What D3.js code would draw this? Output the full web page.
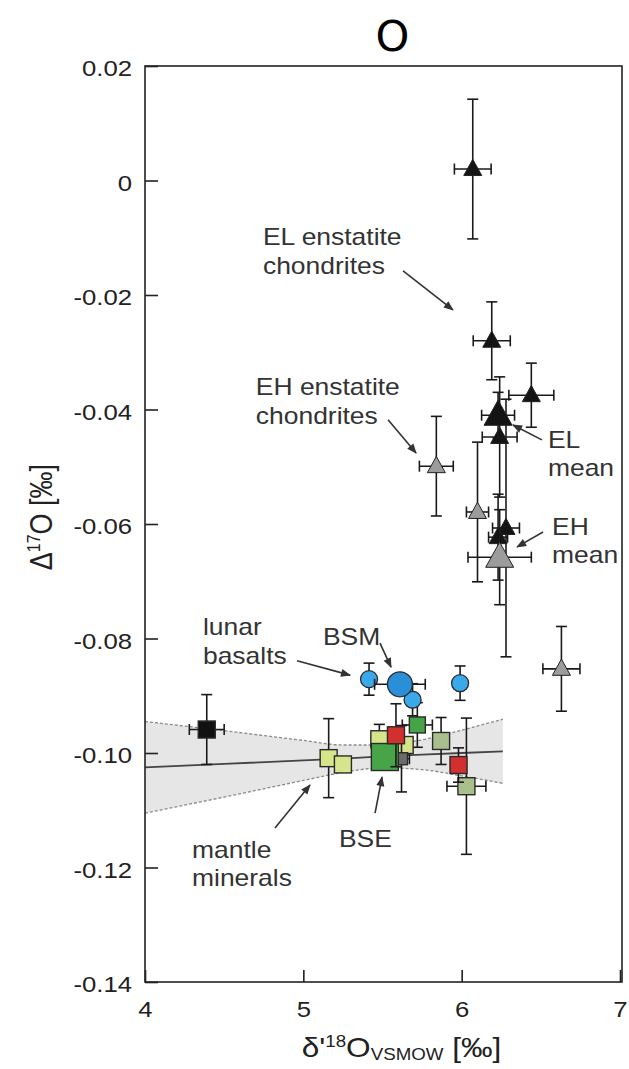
<!DOCTYPE html>
<html>
<head>
<meta charset="utf-8">
<script src="https://cdn.jsdelivr.net/npm/d3@7"></script>
<style>
  html, body { margin: 0; padding: 0; background: #fff; }
  svg { display: block; }
</style>
</head>
<body>
<div id="chart"></div>
<script>
// Δ17O vs δ'18O — enstatite chondrites, lunar basalts, mantle minerals
const X_TICKS = [4, 5, 6, 7];
const Y_TICKS = [0.02, 0, -0.02, -0.04, -0.06, -0.08, -0.10, -0.12, -0.14];

// regression line + confidence band (read at a few x positions)
const BAND_X = [4, 4.5, 5, 5.25, 5.5, 5.75, 6, 6.26];
const BAND_MID = [-0.1025, -0.1019, -0.1013, -0.1010, -0.1006, -0.1003, -0.1000, -0.0997];
const BAND_HI = [-0.0945, -0.0961, -0.0978, -0.0986, -0.0986, -0.0977, -0.0960, -0.0941];
const BAND_LO = [-0.1105, -0.1077, -0.1048, -0.1034, -0.1026, -0.1029, -0.1040, -0.1053];

// each point: x, y, ex (±δ'18O), ey (±Δ17O)
const EL = [
  { x: 6.07, y: 0.002, ex: 0.116, ey: 0.0122 },
  { x: 6.19, y: -0.028, ex: 0.117, ey: 0.0068 },
  { x: 6.44, y: -0.0375, ex: 0.142, ey: 0.0056 },
  { x: 6.24, y: -0.0448, ex: 0.11, ey: 0.0105 },
  { x: 6.28, y: -0.0607, ex: 0.085, ey: 0.0225 },
  { x: 6.23, y: -0.0623, ex: 0.06, ey: 0.0075 },
];
const EL_MEAN = [{ x: 6.23, y: -0.041, ex: 0.104, ey: 0.004 }];
const EH = [
  { x: 5.84, y: -0.0499, ex: 0.107, ey: 0.0087 },
  { x: 6.10, y: -0.0579, ex: 0.07, ey: 0.0122 },
  { x: 6.63, y: -0.0853, ex: 0.117, ey: 0.0074 },
];
const EH_MEAN = [{ x: 6.24, y: -0.0658, ex: 0.2, ey: 0.0083 }];
const LUNAR = [
  { x: 5.415, y: -0.0871, ex: 0, ey: 0.0028 },
  { x: 5.69, y: -0.0907, ex: 0, ey: 0.0028 },
  { x: 5.99, y: -0.0878, ex: 0, ey: 0.003 },
];
const BSM = [{ x: 5.61, y: -0.088, ex: 0.16, ey: 0.0016 }];
const MANTLE_LIME = [
  { x: 5.16, y: -0.1009, ex: 0, ey: 0.0069 },
  { x: 5.25, y: -0.102, ex: 0, ey: 0 },
  { x: 5.64, y: -0.0986, ex: 0, ey: 0 },
  { x: 5.48, y: -0.0976, ex: 0, ey: 0.0026 },
];
const MANTLE_BLACK = [{ x: 4.39, y: -0.0959, ex: 0.11, ey: 0.0061 }];
const MANTLE_GREY = [{ x: 5.62, y: -0.101, ex: 0.05, ey: 0.0058 }];
const MANTLE_SAGE = [
  { x: 5.87, y: -0.0979, ex: 0, ey: 0.0041 },
  { x: 6.03, y: -0.1058, ex: 0.123, ey: 0.0119 },
];
const MANTLE_GREEN = [{ x: 5.72, y: -0.0951, ex: 0.095, ey: 0.0039 }];
const MANTLE_RED = [
  { x: 5.585, y: -0.0969, ex: 0, ey: 0.0055 },
  { x: 5.98, y: -0.1021, ex: 0.02, ey: 0.003 },
];
const BSE = [{ x: 5.515, y: -0.1007, ex: 0, ey: 0 }];

// annotations: text start (data coords), arrow tail -> head (data coords)
const NOTES = [
  { lines: ["EL enstatite", "chondrites"], at: [4.745, -0.0113], from: [5.63, -0.0158], to: [5.945, -0.0226] },
  { lines: ["EH enstatite", "chondrites"], at: [4.70, -0.0375], from: [5.535, -0.0418], to: [5.712, -0.0476] },
  { lines: ["EL", "mean"], at: [6.545, -0.0467], from: [6.507, -0.0453], to: [6.324, -0.0427] },
  { lines: ["EH", "mean"], at: [6.571, -0.0619], from: [6.514, -0.0614], to: [6.35, -0.0640] },
  { lines: ["BSM"], at: [5.124, -0.0811], from: [5.484, -0.0808], to: [5.554, -0.0850] },
  { lines: ["lunar", "basalts"], at: [4.366, -0.0794], from: [4.96, -0.0839], to: [5.295, -0.0864] },
  { lines: ["mantle", "minerals"], at: [4.297, -0.1183], from: [4.821, -0.1131], to: [5.042, -0.1056] },
  { lines: ["BSE"], at: [5.225, -0.1164], from: [5.453, -0.1105], to: [5.497, -0.1042] },
];

const W = 629, H = 1069;
const L = 145, R = 620, T = 66, B = 982;
const FONT = "'Liberation Sans', Arial, Helvetica, sans-serif";
const INK = "#222";
const SX = 1.17; // source figure text is stretched horizontally

const x = d3.scaleLinear().domain([4, 7]).range([L, R]);
const y = d3.scaleLinear().domain([-0.14, 0.02]).range([B, T]);

const svg = d3.select("#chart").append("svg")
  .attr("width", W).attr("height", H)
  .attr("viewBox", `0 0 ${W} ${H}`);

svg.append("defs").append("marker")
  .attr("id", "ah").attr("viewBox", "0 0 10 10")
  .attr("refX", 9).attr("refY", 5)
  .attr("markerUnits", "userSpaceOnUse").attr("orient", "auto")
  .attr("markerWidth", 12).attr("markerHeight", 10)
  .append("path").attr("d", "M0,1 L10,5 L0,9 Z").attr("fill", "#333");

// title
svg.append("text").attr("x", (L + R) / 2 + 10).attr("y", 51)
  .attr("text-anchor", "middle")
  .attr("style", `font:43px 'DejaVu Sans', sans-serif;fill:#000`).text("O");

const plot = svg.append("g");

// confidence band
const bandPts = BAND_X.map((v, i) => ({ x: v, hi: BAND_HI[i], lo: BAND_LO[i], mid: BAND_MID[i] }));
plot.append("path")
  .attr("d", d3.area().x(d => x(d.x)).y0(d => y(d.lo)).y1(d => y(d.hi)).curve(d3.curveMonotoneX)(bandPts))
  .attr("fill", "#e6e6e6");
["hi", "lo"].forEach(k => {
  plot.append("path")
    .attr("d", d3.line().x(d => x(d.x)).y(d => y(d[k])).curve(d3.curveMonotoneX)(bandPts))
    .attr("fill", "none").attr("stroke", "#8a8a8a").attr("stroke-width", 1.3)
    .attr("stroke-dasharray", "3,2");
});
plot.append("path")
  .attr("d", d3.line().x(d => x(d.x)).y(d => y(d.mid))(bandPts))
  .attr("fill", "none").attr("stroke", "#444").attr("stroke-width", 1.8);

// error bars + markers
const CAP = 5.5;
function errBars(data) {
  const g = plot.append("g").attr("stroke", "#1a1a1a").attr("stroke-width", 1.6).attr("fill", "none");
  data.forEach(d => {
    if (d.ey > 0) {
      const y1 = y(d.y + d.ey), y2 = y(d.y - d.ey), cx = x(d.x);
      g.append("line").attr("x1", cx).attr("x2", cx).attr("y1", y1).attr("y2", y2);
      [y1, y2].forEach(v => g.append("line").attr("x1", cx - CAP).attr("x2", cx + CAP).attr("y1", v).attr("y2", v));
    }
    if (d.ex > 0) {
      const x1 = x(d.x - d.ex), x2 = x(d.x + d.ex), cy = y(d.y);
      g.append("line").attr("x1", x1).attr("x2", x2).attr("y1", cy).attr("y2", cy);
      [x1, x2].forEach(v => g.append("line").attr("x1", v).attr("x2", v).attr("y1", cy - CAP).attr("y2", cy + CAP));
    }
  });
}
function tri(data, size, fill) {
  errBars(data);
  const h = size * 0.9;
  plot.append("g").selectAll("path").data(data).join("path")
    .attr("d", d => {
      const cx = x(d.x), cy = y(d.y);
      return `M${cx},${cy - h * 0.6} L${cx + size / 2},${cy + h * 0.4} L${cx - size / 2},${cy + h * 0.4} Z`;
    })
    .attr("fill", fill).attr("stroke", "#222").attr("stroke-width", 1);
}
function sq(data, size, fill) {
  errBars(data);
  plot.append("g").selectAll("rect").data(data).join("rect")
    .attr("x", d => x(d.x) - size / 2).attr("y", d => y(d.y) - size / 2)
    .attr("width", size).attr("height", size)
    .attr("fill", fill).attr("stroke", "#2a2a2a").attr("stroke-width", 1.4);
}
function dot(data, r, fill) {
  errBars(data);
  plot.append("g").selectAll("circle").data(data).join("circle")
    .attr("cx", d => x(d.x)).attr("cy", d => y(d.y)).attr("r", r)
    .attr("fill", fill).attr("stroke", "#2a2a2a").attr("stroke-width", 1.3);
}

tri(EL, 18, "#141414");
tri(EH, 18, "#9c9c9c");
tri(EL_MEAN, 28, "#141414");
tri(EH_MEAN, 28, "#9c9c9c");

sq(MANTLE_BLACK, 17, "#111");
sq(MANTLE_GREEN, 16, "#46a346");
sq(MANTLE_SAGE, 17, "#a9c08c");
sq(MANTLE_LIME, 17, "#d6e48b");
sq(MANTLE_GREY, 12, "#6b6b6b");
sq(BSE, 27, "#47a548");
sq(MANTLE_RED, 17, "#d22f2f");

dot(LUNAR, 8.5, "#3aa9ea");
dot(BSM, 12.5, "#2a8ed8");

// frame
svg.append("rect").attr("x", L).attr("y", T).attr("width", R + 2 - L).attr("height", B - T)
  .attr("fill", "none").attr("stroke", INK).attr("stroke-width", 1.6);

// axes (inward ticks)
const ya = svg.append("g").attr("transform", `translate(${L},0)`)
  .call(d3.axisLeft(y).tickValues(Y_TICKS).tickSize(-13).tickPadding(11)
    .tickFormat(v => v === 0 ? "0" : d3.format(".2f")(v).replace("−", "-")));
const xa = svg.append("g").attr("transform", `translate(0,${B})`)
  .call(d3.axisBottom(x).tickValues(X_TICKS).tickSize(-12).tickPadding(19).tickFormat(d3.format("d")));
[ya, xa].forEach(a => {
  a.select(".domain").remove();
  a.selectAll(".tick line").attr("stroke", INK).attr("stroke-width", 1.6);
  a.selectAll(".tick text").attr("fill", INK)
    .attr("transform", `scale(${SX},1)`)
    .attr("style", `font:22px ${FONT}`);
});
ya.selectAll(".tick text").attr("dy", "0.45em");

// axis titles
const yl = svg.append("text")
  .attr("transform", `translate(52,${y(-0.0588)}) scale(${SX},1) rotate(-90)`)
  .attr("text-anchor", "middle").attr("fill", INK)
  .attr("style", `font:27px ${FONT}`);
yl.append("tspan").text("Δ");
yl.append("tspan").attr("dy", -10).attr("style", `font-size:16px`).text("17");
yl.append("tspan").attr("dy", 10).text("O [‰]");

const xl = svg.append("text")
  .attr("transform", `translate(${(L + R) / 2 + 19},1057) scale(${SX},1)`)
  .attr("text-anchor", "middle").attr("fill", INK)
  .attr("style", `font:27px ${FONT}`);
xl.append("tspan").text("δ'");
xl.append("tspan").attr("dy", -10).attr("style", "font-size:16px").text("18");
xl.append("tspan").attr("dy", 10).text("O");
xl.append("tspan").attr("dy", 3).attr("style", "font-size:16px").text("VSMOW");
xl.append("tspan").attr("dy", -3).text(" [‰]");

// annotations
NOTES.forEach(n => {
  const t = svg.append("text")
    .attr("transform", `translate(${x(n.at[0])},${y(n.at[1])}) scale(1.15,1)`)
    .attr("fill", "#333").attr("style", `font:23px ${FONT}`);
  n.lines.forEach((s, i) => t.append("tspan").attr("x", 0).attr("y", i * 28.5).text(s));
  svg.append("line")
    .attr("x1", x(n.from[0])).attr("y1", y(n.from[1]))
    .attr("x2", x(n.to[0])).attr("y2", y(n.to[1]))
    .attr("stroke", "#333").attr("stroke-width", 1.6).attr("marker-end", "url(#ah)");
});
</script>
</body>
</html>
